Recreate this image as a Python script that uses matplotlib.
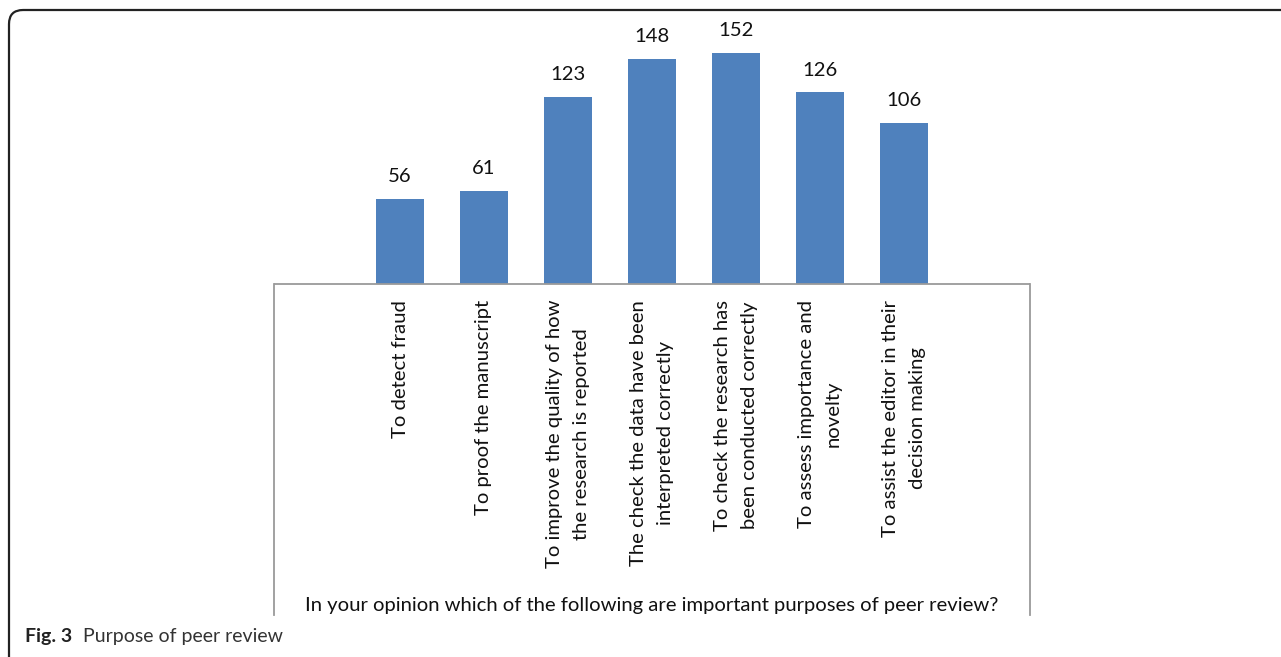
import numpy as np
import matplotlib
matplotlib.use('Agg')
import matplotlib.pyplot as plt
from matplotlib.patches import FancyBboxPatch

plt.rcParams['font.family'] = ['Lato', 'DejaVu Sans']

#=============== data ===============
categories = ['To detect fraud',
              'To proof the manuscript',
              'To improve the quality of how\nthe research is reported',
              'The check the data have been\ninterpreted correctly',
              'To check the research has\nbeen conducted correctly',
              'To assess importance and\nnovelty',
              'To assist the editor in their\ndecision making']
counts = [56, 61, 123, 148, 152, 126, 106]
axis_title = 'In your opinion which of the following are important purposes of peer review?'

#=============== layout (pixels) ===============
W, H = 1281, 657
px_per_unit = 1.52
y_line = 284          # pixel row of the category axis line
y_box_bottom = 615    # bottom of the grey side lines
ymax = 160
ymin = -(y_box_bottom - y_line) / px_per_unit
ax_top = y_line - ymax * px_per_unit
x_left, x_right = 274, 1030
fs = 14.6

fig = plt.figure(figsize=(W / 100, H / 100), dpi=100)
ax = fig.add_axes([x_left / W, 1 - y_box_bottom / H,
                   (x_right - x_left) / W, (y_box_bottom - ax_top) / H])

x = np.arange(len(counts))
bars = ax.bar(x, counts, width=48 / 84, color='#4F81BD', zorder=2)
ax.bar_label(bars, labels=[str(c) for c in counts], padding=10, fontsize=fs, color='#111111')

ax.set_xlim(-1.5, len(counts) + 0.5)
ax.set_ylim(ymin, ymax)
ax.axhline(0, color='#9a9a9a', lw=1.3, zorder=3)
for s in ['top', 'bottom']:
    ax.spines[s].set_visible(False)
for s in ['left', 'right']:
    ax.spines[s].set_color('#9a9a9a')
    ax.spines[s].set_linewidth(1.3)
    ax.spines[s].set_bounds(ymin, 0)
ax.set_xticks([])
ax.set_yticks([])

# category labels, rotated
for xi, lab in zip(x, categories):
    ax.text(xi, -16 / px_per_unit, lab, rotation=90, ha='center', va='top',
            multialignment='center', fontsize=fs, color='#111111', linespacing=1.65)

ax.text((len(counts) - 1) / 2, -(605 - y_line) / px_per_unit, axis_title,
        ha='center', va='center', fontsize=fs, color='#111111')

# outer rounded frame, open at right and bottom (cut off by image edge)
frame = FancyBboxPatch((9 / W, -0.05), 1.2, 1 - 10 / H + 0.05,
                       boxstyle='round,pad=0,rounding_size=0.011',
                       transform=fig.transFigure, fill=False, ec='#222222', lw=1.6,
                       mutation_aspect=W / H)
fig.patches.append(frame)

fig.text(25 / W, 1 - 642 / H, 'Fig. 3', fontsize=14, fontweight='bold', va='baseline', ha='left', color='#222222')
fig.text(83 / W, 1 - 642 / H, 'Purpose of peer review', fontsize=14, va='baseline', ha='left', color='#333333')

fig.savefig('out.png', dpi=100)
